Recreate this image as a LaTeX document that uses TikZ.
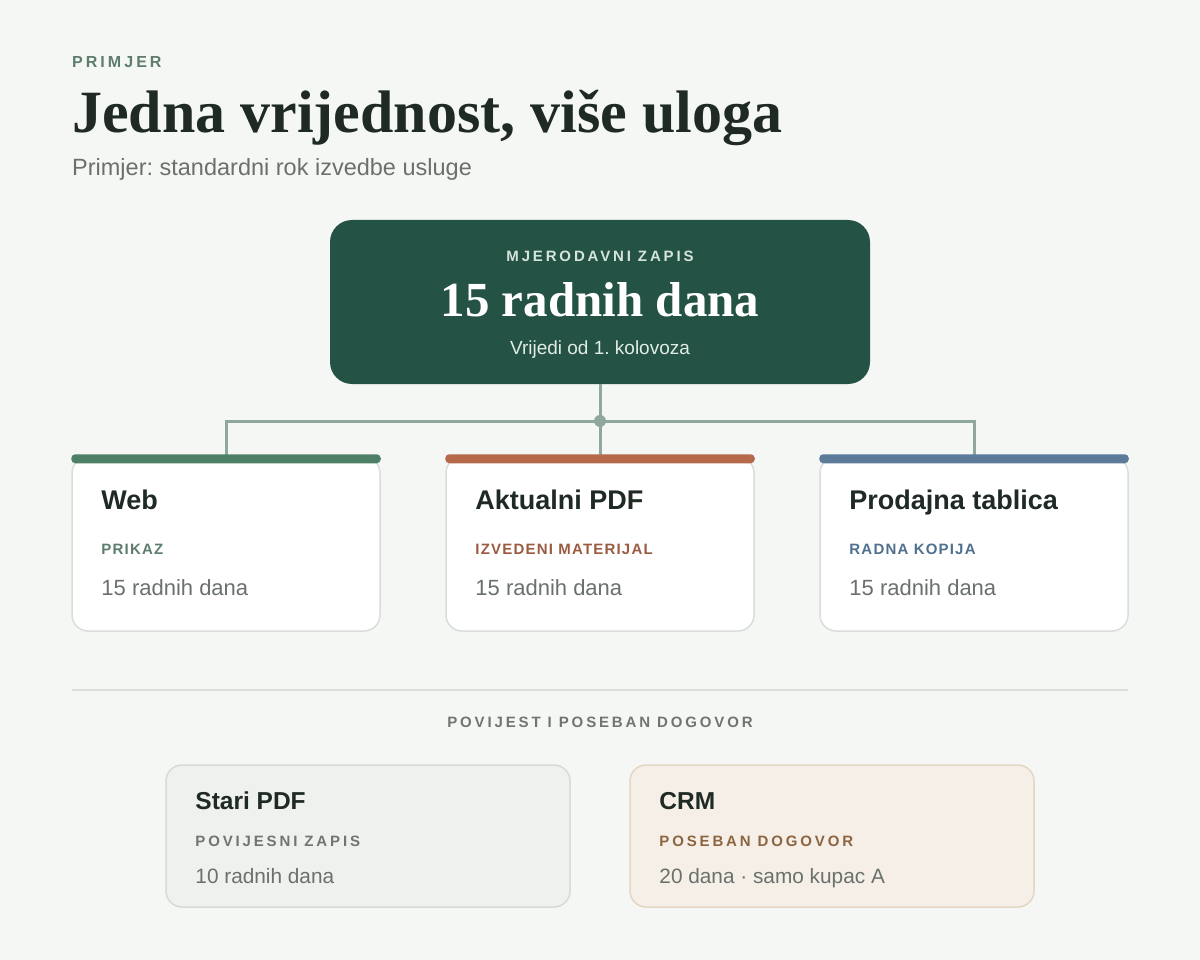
\documentclass[tikz,border=0pt]{standalone}
\usepackage{fontspec}
\setmainfont{Liberation Serif}
\newfontfamily\sansfont{Liberation Sans}
\newfontfamily\capsfont[LetterSpace=19]{Liberation Sans}
\newfontfamily\rolefont[LetterSpace=8]{Liberation Sans}
\usetikzlibrary{positioning}
\frenchspacing
\definecolor{pagebg}{HTML}{F5F7F4}
\definecolor{ink}{HTML}{1F2A24}
\definecolor{muted}{HTML}{6A716C}
\definecolor{kickergreen}{HTML}{5E7D6C}
\definecolor{authgreen}{HTML}{245244}
\definecolor{authlabel}{HTML}{D5E5DC}
\definecolor{authsub}{HTML}{E2ECE6}
\definecolor{linkgray}{HTML}{8FA89B}
\definecolor{cardline}{HTML}{D9DEDA}
\definecolor{webbar}{HTML}{4E8068}
\definecolor{pdfbar}{HTML}{B5694A}
\definecolor{salesbar}{HTML}{5B7B99}
\definecolor{pdflabel}{HTML}{9B5B40}
\definecolor{saleslabel}{HTML}{50708F}
\definecolor{histlabel}{HTML}{6F7570}
\definecolor{oldfill}{HTML}{EFF1EE}
\definecolor{oldline}{HTML}{D7DBD7}
\definecolor{crmfill}{HTML}{F6EFE7}
\definecolor{crmline}{HTML}{E4D6C4}
\definecolor{crmlabel}{HTML}{8C6540}

\begin{document}
\frenchspacing
\begin{tikzpicture}[x=1pt,y=-1pt]
% STYLES
\tikzset{%
    txt/.style={inner sep=0pt,anchor=base west},
    kicker/.style={txt,text=kickergreen,font=\capsfont\bfseries\fontsize{16}{19}\selectfont},
    headline/.style={txt,text=ink,font=\bfseries\fontsize{60}{68}\selectfont},
    subline/.style={txt,text=muted,font=\sansfont\fontsize{23.5}{28}\selectfont},
    auth/.style={rectangle,rounded corners=22pt,fill=authgreen,
        minimum width=540pt,minimum height=164pt,inner sep=0pt},
    card/.style={rectangle,rounded corners=16pt,draw=cardline,line width=1.5pt,
        fill=white,minimum width=308pt,minimum height=174pt,inner sep=0pt},
    histcard/.style={rectangle,rounded corners=16pt,line width=1.5pt,
        minimum width=404pt,minimum height=142pt,inner sep=0pt},
    cardtitle/.style={txt,text=ink,font=\sansfont\bfseries\fontsize{27}{31}\selectfont},
    histtitle/.style={txt,text=ink,font=\sansfont\bfseries\fontsize{24.5}{29}\selectfont},
    role/.style={txt,font=\rolefont\bfseries\fontsize{15}{18}\selectfont},
    histrole/.style={txt,font=\capsfont\bfseries\fontsize{15}{18}\selectfont},
    value/.style={txt,text=muted,font=\sansfont\fontsize{22}{26}\selectfont},
    histvalue/.style={txt,text=muted,font=\sansfont\fontsize{20.8}{25}\selectfont},
    link/.style={draw=linkgray,line width=3pt},
    bar/.style={rounded corners=4pt}
}
% Page
\fill[pagebg] (0,0) rectangle (1200,960);
\useasboundingbox (0,0) rectangle (1200,960);
% Header
\node[kicker] (kicker) at (72,68) {PRIMJER};
\node[headline] (title) at (72,133) {Jedna vrijednost, više uloga};
\node[subline] (subtitle) at (72,176) {Primjer: standardni rok izvedbe usluge};
% Authoritative record
\node[auth] (record) at (600,302) {};
\node[inner sep=0pt,anchor=base,text=authlabel,font=\capsfont\bfseries\fontsize{15}{18}\selectfont]
    (recordlabel) at ([shift={(0,42)}]record.north) {MJERODAVNI ZAPIS};
\node[inner sep=0pt,anchor=base,text=white,font=\bfseries\fontsize{49}{55}\selectfont]
    (recordvalue) at ([shift={(0,97)}]record.north) {15 radnih dana};
\node[inner sep=0pt,anchor=base,text=authsub,font=\sansfont\fontsize{19}{23}\selectfont]
    (recorddate) at ([shift={(0,135)}]record.north) {Vrijedi od 1. kolovoza};
% Cards
\node[card] (web) at (226,544) {};
\node[card] (pdf) at (600,544) {};
\node[card] (sales) at (974,544) {};
% Draw the links between record and cards
\coordinate (hub) at (600,421);
\draw[link] (record.south) -- (pdf.north);
\draw[link] (web.north) |- (hub) -| (sales.north);
\fill[linkgray] (hub) circle (6pt);
% Colour bars on top of cards
\fill[webbar,bar] ([yshift=2pt]web.north west) rectangle ([yshift=-7pt]web.north east);
\fill[pdfbar,bar] ([yshift=2pt]pdf.north west) rectangle ([yshift=-7pt]pdf.north east);
\fill[salesbar,bar] ([yshift=2pt]sales.north west) rectangle ([yshift=-7pt]sales.north east);
% Card texts
\node[cardtitle] (webtitle) at ([shift={(30,53)}]web.north west) {Web};
\node[role,text=kickergreen] (webrole) at ([shift={(30,98)}]web.north west) {PRIKAZ};
\node[value] (webvalue) at ([shift={(30,139)}]web.north west) {15 radnih dana};
\node[cardtitle] (pdftitle) at ([shift={(30,53)}]pdf.north west) {Aktualni PDF};
\node[role,text=pdflabel] (pdfrole) at ([shift={(30,98)}]pdf.north west) {IZVEDENI MATERIJAL};
\node[value] (pdfvalue) at ([shift={(30,139)}]pdf.north west) {15 radnih dana};
\node[cardtitle] (salestitle) at ([shift={(30,53)}]sales.north west) {Prodajna tablica};
\node[role,text=saleslabel] (salesrole) at ([shift={(30,98)}]sales.north west) {RADNA KOPIJA};
\node[value] (salesvalue) at ([shift={(30,139)}]sales.north west) {15 radnih dana};
% Separator and history section
\coordinate (ruleleft) at (72,690);
\coordinate (ruleright) at (1128,690);
\draw[cardline,line width=2pt] (ruleleft) -- (ruleright);
\node[inner sep=0pt,anchor=base,text=histlabel,font=\capsfont\bfseries\fontsize{15}{18}\selectfont]
    (histhead) at (600,727) {POVIJEST I POSEBAN DOGOVOR};
\node[histcard,fill=oldfill,draw=oldline] (oldpdf) at (368,836) {};
\node[histcard,fill=crmfill,draw=crmline] (crm) at (832,836) {};
\node[histtitle] (oldtitle) at ([shift={(30,45)}]oldpdf.north west) {Stari PDF};
\node[histrole,text=histlabel] (oldrole) at ([shift={(30,82)}]oldpdf.north west) {POVIJESNI ZAPIS};
\node[histvalue] (oldvalue) at ([shift={(30,119)}]oldpdf.north west) {10 radnih dana};
\node[histtitle] (crmtitle) at ([shift={(30,45)}]crm.north west) {CRM};
\node[histrole,text=crmlabel] (crmrole) at ([shift={(30,82)}]crm.north west) {POSEBAN DOGOVOR};
\node[histvalue] (crmvalue) at ([shift={(30,119)}]crm.north west) {20 dana · samo kupac A};
\end{tikzpicture}
\end{document}
